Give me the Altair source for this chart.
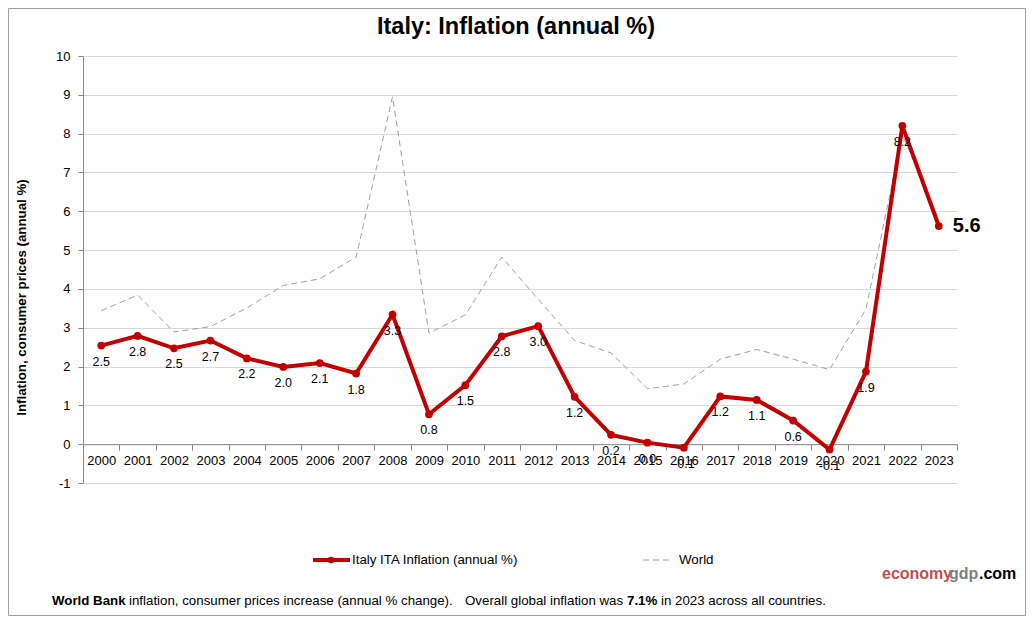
import altair as alt
import pandas as pd

years = [str(y) for y in range(2000, 2024)]
italy = [2.54, 2.79, 2.47, 2.67, 2.21, 1.99, 2.09, 1.82, 3.34, 0.77, 1.52, 2.78,
         3.04, 1.22, 0.24, 0.04, -0.09, 1.23, 1.14, 0.61, -0.14, 1.87, 8.20, 5.62]
world = [3.44, 3.84, 2.89, 3.03, 3.51, 4.09, 4.26, 4.82, 8.95, 2.86, 3.33, 4.82,
         3.73, 2.67, 2.35, 1.43, 1.55, 2.19, 2.44, 2.19, 1.92, 3.48, 7.97, 5.80]
y_ticks = list(range(-1, 11))

W, H = 874, 427
FONT = "Liberation Sans"
RED = "#c00000"

df = pd.DataFrame({"year": years, "italy": italy, "world": world})
df["lbl"] = [f"{v:.1f}" for v in italy]
dummy = pd.DataFrame({"a": [0]})

x_enc = alt.X("year:O", sort=years,
              scale=alt.Scale(type="band", paddingInner=0, paddingOuter=0),
              axis=alt.Axis(title=None, labelAngle=0, offset=-(H / 11),
                            tickBand="extent", tickSize=6, labelPadding=4,
                            domainColor="#888", tickColor="#888", grid=False,
                            labelFont=FONT, labelFontSize=13, labelColor="#000",
                            labelOverlap=False))
y_scale = alt.Scale(domain=[-1, 10], nice=False, zero=False)

world_line = alt.Chart(df).mark_line(color="#a0a0a0", strokeWidth=1, strokeDash=[6, 4]).encode(
    x=x_enc,
    y=alt.Y("world:Q", scale=y_scale,
            axis=alt.Axis(values=y_ticks, tickCount=len(y_ticks) + 2, grid=True, gridColor="#d9d9d9",
                          tickSize=5, labelPadding=8, domainColor="#888", tickColor="#888",
                          labelFont=FONT, labelFontSize=13, labelColor="#000",
                          labelOverlap=False, labelExpr="toString(datum.value)",
                          title="Inflation, consumer prices (annual %)",
                          titleFont=FONT, titleFontSize=13.3, titleFontWeight="bold",
                          titleColor="#000", titleX=-62, titleY=241,
                          titleAngle=270, titleAlign="center", titleBaseline="middle"))
)

italy_line = alt.Chart(df).mark_line(color=RED, strokeWidth=4,
                                     point=alt.OverlayMarkDef(color=RED, filled=True, size=60, opacity=1)).encode(
    x=alt.X("year:O", sort=years),
    y=alt.Y("italy:Q", scale=y_scale),
)

labels = alt.Chart(df[df["year"] != "2023"]).mark_text(
    dy=16, font=FONT, fontSize=12.5, color="#000").encode(
    x=alt.X("year:O", sort=years), y=alt.Y("italy:Q", scale=y_scale), text="lbl:N")

last = alt.Chart(df[df["year"] == "2023"]).mark_text(
    dx=14, align="left", baseline="middle", font=FONT, fontSize=20,
    fontWeight="bold", color="#000").encode(
    x=alt.X("year:O", sort=years), y=alt.Y("italy:Q", scale=y_scale), text="lbl:N")

OX, OY = 83, 56  # plot origin on page


def txt(s, px, py, size=13.3, weight="normal", color="#000", align="left", baseline="middle"):
    return alt.Chart(dummy).mark_text(text=s, font=FONT, fontSize=size, fontWeight=weight,
                                      color=color, align=align, baseline=baseline).encode(
        x=alt.value(px - OX), y=alt.value(py - OY))


def seg(x1, x2, py, color, width, dash=None):
    kw = dict(color=color, strokeWidth=width)
    if dash:
        kw["strokeDash"] = dash
    return alt.Chart(dummy).mark_rule(**kw).encode(
        x=alt.value(x1 - OX), x2=alt.value(x2 - OX), y=alt.value(py - OY))


frame = alt.Chart(dummy).mark_rect(fill=None, stroke="#a0a0a0", strokeWidth=1).encode(
    x=alt.value(8.5 - OX), x2=alt.value(1025.5 - OX), y=alt.value(8.5 - OY), y2=alt.value(615.5 - OY))

title = txt("Italy: Inflation (annual %)", 516, 27, size=23.5, weight="bold", align="center")

leg_dot = alt.Chart(dummy).mark_point(filled=True, color=RED, size=45, opacity=1).encode(
    x=alt.value(331 - OX), y=alt.value(560 - OY))

legend = [
    seg(313, 350, 560, RED, 4),
    leg_dot,
    txt("Italy ITA Inflation (annual %)", 352, 560),
    seg(643, 673, 560, "#a0a0a0", 1, [6, 4]),
    txt("World", 679, 560),
]

brand = [
    txt("economy", 882, 574, size=16, weight="bold", color="#c0504d"),
    txt("gdp", 949, 574, size=16, weight="bold", color="#808080"),
    txt(".com", 979, 574, size=16, weight="bold", color="#000"),
]

footer = [
    txt("World Bank", 52, 601, weight="bold"),
    txt("inflation, consumer prices increase (annual % change).", 129, 601),
    txt("Overall  global  inflation was", 465, 601),
    txt("7.1%", 627, 601, weight="bold"),
    txt("in 2023 across all countries.", 661, 601),
]

chart = alt.layer(frame, world_line, italy_line, labels, last, title, *legend, *brand, *footer).properties(
    width=W, height=H,
    autosize=alt.AutoSizeParams(type="none"),
    padding={"left": OX - 8, "top": OY - 8, "right": 1018 - (OX - 8) - W, "bottom": 608 - (OY - 8) - H},
    background="white",
).configure_view(stroke=None)

chart.save("out.html", embed_options={"renderer": "svg", "actions": False})
